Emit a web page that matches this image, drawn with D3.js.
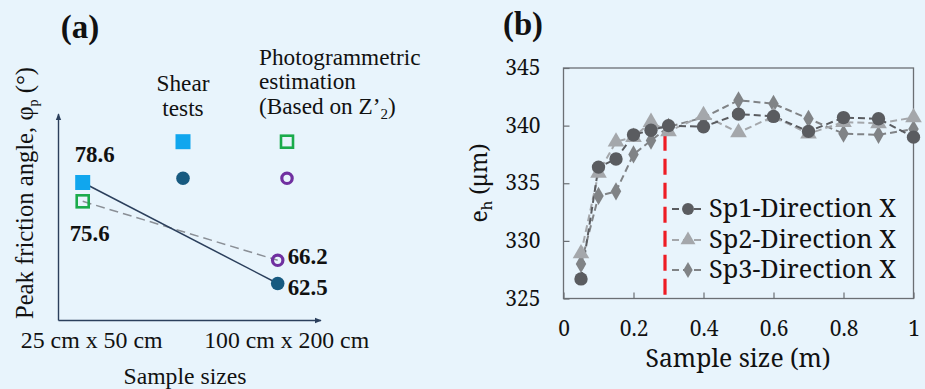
<!DOCTYPE html>
<html><head><meta charset="utf-8">
<script src="https://cdn.jsdelivr.net/npm/d3@7/dist/d3.min.js"></script>
<style>html,body{margin:0;padding:0;background:#e8f4fc;}svg{display:block;}</style>
</head><body>
<script>
// ---------- Panel (a) data ----------
const sizeCategories = ["25 cm x 50 cm", "100 cm x 200 cm"];
const shearTests = [78.6, 62.5];
const photogrammetric = [75.6, 66.2];

// ---------- Panel (b) data ----------
const sampleSizes = [0.05, 0.1, 0.15, 0.2, 0.25, 0.3, 0.4, 0.5, 0.6, 0.7, 0.8, 0.9, 1.0];
const sp1 = [326.7, 336.4, 337.1, 339.2, 339.6, 340.0, 339.9, 341.0, 340.8, 339.5, 340.7, 340.6, 339.0];
const sp2 = [328.9, 335.9, 338.6, 339.0, 340.3, 339.5, 340.9, 339.4, 340.8, 339.3, 340.3, 340.2, 340.7];
const sp3 = [328.0, 333.9, 334.3, 337.5, 338.7, 339.9, 340.7, 342.2, 341.9, 340.6, 339.3, 339.2, 339.7];
const seriesNames = ["Sp1-Direction X", "Sp2-Direction X", "Sp3-Direction X"];
const xTicks = [0, 0.2, 0.4, 0.6, 0.8, 1];
const yTicks = [325, 330, 335, 340, 345];
const thresholdSize = 0.29;

const W = 925, H = 389;
const FA = "'Liberation Serif'";
const FB = "'Noto Serif'";
const svg = d3.select("body").append("svg").attr("width", W).attr("height", H);
svg.append("rect").attr("width", W).attr("height", H).attr("fill", "#e8f4fc");

// set font-size so the text is the given width
function fit(sel, w) {
  const node = sel.node();
  const cur = parseFloat(sel.style("font-size"));
  const len = node.getComputedTextLength();
  if (len > 0) sel.style("font-size", (cur * w / len).toFixed(2) + "px");
  return sel;
}
function txt(g, font, size, x, y, s, anchor) {
  return g.append("text").attr("x", x).attr("y", y).style("font-family", font)
    .style("font-size", size + "px").attr("fill", "#111").attr("text-anchor", anchor || "start").text(s);
}

const defs = svg.append("defs");
defs.append("marker").attr("id", "arr").attr("viewBox", "0 0 10 10")
  .attr("refX", 9).attr("refY", 5).attr("markerWidth", 7).attr("markerHeight", 7)
  .attr("markerUnits", "userSpaceOnUse").attr("orient", "auto")
  .append("path").attr("d", "M0,1 L10,5 L0,9 Z").attr("fill", "#2b3f5c");

// ================= Panel (a) =================
const gA = svg.append("g");
const xA = d3.scalePoint().domain(sizeCategories).range([82.7, 277.7]);
const yA = d3.scaleLinear().domain([62.5, 78.6]).range([283.5, 182.5]);

const axisColor = "#2b3f5c";
gA.append("line").attr("x1", 58.5).attr("y1", 320.5).attr("x2", 58.5).attr("y2", 114)
  .attr("stroke", axisColor).attr("stroke-width", 1.4).attr("marker-end", "url(#arr)");
gA.append("line").attr("x1", 58.5).attr("y1", 320.5).attr("x2", 321).attr("y2", 320.5)
  .attr("stroke", axisColor).attr("stroke-width", 1.4).attr("marker-end", "url(#arr)");

txt(gA, FA, 33, 80, 38, "(a)", "middle").style("font-weight", "bold");

// y label
const yl = gA.append("text").attr("transform", "translate(33,193) rotate(-90)")
  .attr("text-anchor", "middle").style("font-family", FA).style("font-size", "22px").attr("fill", "#111");
yl.append("tspan").text("Peak friction angle,  φ");
yl.append("tspan").style("font-size", "14px").attr("dy", 5).text("p");
yl.append("tspan").attr("dy", -5).text(" (°)");
fit(yl, 253);

// x category labels
const catW = [142, 165];
sizeCategories.forEach((c, i) => {
  fit(txt(gA, FA, 23, xA(c) + 9, 348, c, "middle"), catW[i]);
});
fit(txt(gA, FA, 23, 185, 384, "Sample sizes", "middle"), 123);

// lines
gA.append("line").attr("x1", xA(sizeCategories[0])).attr("y1", yA(photogrammetric[0]))
  .attr("x2", xA(sizeCategories[1])).attr("y2", yA(photogrammetric[1]))
  .attr("stroke", "#8a8f96").attr("stroke-width", 1.5).attr("stroke-dasharray", "9,5");
gA.append("line").attr("x1", xA(sizeCategories[0])).attr("y1", yA(shearTests[0]))
  .attr("x2", xA(sizeCategories[1])).attr("y2", yA(shearTests[1]))
  .attr("stroke", "#2b3f5c").attr("stroke-width", 1.5);

const blue = "#10a6ee", navy = "#175a80", green = "#1aab4b", purple = "#7030a0";
function sqFill(g, cx, cy, s) {
  g.append("rect").attr("x", cx - s / 2).attr("y", cy - s / 2).attr("width", s).attr("height", s).attr("fill", blue);
}
function sqOpen(g, cx, cy, s) {
  g.append("rect").attr("x", cx - s / 2).attr("y", cy - s / 2).attr("width", s).attr("height", s)
    .attr("fill", "none").attr("stroke", green).attr("stroke-width", 2.6);
}
function dot(g, cx, cy) { g.append("circle").attr("cx", cx).attr("cy", cy).attr("r", 6.8).attr("fill", navy); }
function ring(g, cx, cy) {
  g.append("circle").attr("cx", cx).attr("cy", cy).attr("r", 5.2).attr("fill", "none")
    .attr("stroke", purple).attr("stroke-width", 3.2);
}
sqFill(gA, xA(sizeCategories[0]), yA(shearTests[0]), 15);
dot(gA, xA(sizeCategories[1]), yA(shearTests[1]));
sqOpen(gA, xA(sizeCategories[0]), yA(photogrammetric[0]), 12);
ring(gA, xA(sizeCategories[1]), yA(photogrammetric[1]));

// value labels
function vlab(x, y, v, anchor) {
  return fit(txt(gA, FA, 23, x, y, v.toFixed(1), anchor).style("font-weight", "bold"), 40);
}
vlab(xA(sizeCategories[0]) + 12, yA(shearTests[0]) - 21, shearTests[0], "middle");
vlab(xA(sizeCategories[0]) + 7, yA(photogrammetric[0]) + 40, photogrammetric[0], "middle");
vlab(xA(sizeCategories[1]) + 10, yA(photogrammetric[1]) + 4, photogrammetric[1]);
vlab(xA(sizeCategories[1]) + 10, yA(shearTests[1]) + 11, shearTests[1]);

// legend (a)
const shear = fit(txt(gA, FA, 23, 183, 91, "Shear", "middle"), 53);
const lsz = shear.style("font-size");
txt(gA, FA, 23, 183, 116, "tests", "middle").style("font-size", lsz);
txt(gA, FA, 23, 259, 65, "Photogrammetric").style("font-size", lsz);
txt(gA, FA, 23, 259, 89, "estimation").style("font-size", lsz);
const bl = txt(gA, FA, 23, 259, 114, "").style("font-size", lsz);
bl.append("tspan").text("(Based on Z’");
bl.append("tspan").style("font-size", "15px").attr("dy", 5).text("2");
bl.append("tspan").attr("dy", -5).text(")");
sqFill(gA, 183, 141.7, 15);
dot(gA, 183, 178.3);
sqOpen(gA, 287, 141.7, 12);
ring(gA, 287, 178.3);

// ================= Panel (b) =================
const gB = svg.append("g");
const x = d3.scaleLinear().domain([0, 1]).range([563.5, 913.5]);
const y = d3.scaleLinear().domain([325, 345]).range([298.5, 68]);

fit(txt(gB, FA, 33, 523, 35, "(b)", "middle").style("font-weight", "bold"), 40);

const frameColor = "#6b6f74";
gB.append("rect").attr("x", x(0)).attr("y", y(345)).attr("width", x(1) - x(0)).attr("height", y(325) - y(345))
  .attr("fill", "none").attr("stroke", frameColor).attr("stroke-width", 1.3);

const xAxis = d3.axisBottom(x).tickValues(xTicks).tickSize(-6).tickPadding(23)
  .tickFormat(d => d === 0 ? "0" : d === 1 ? "1" : d3.format(".1f")(d));
const gx = gB.append("g").attr("transform", `translate(0,${y(325)})`).call(xAxis);
gx.select(".domain").remove();
gx.selectAll(".tick line").attr("stroke", frameColor).attr("stroke-width", 1.2);
gx.selectAll(".tick text").style("font-family", FB).style("font-size", "21px").attr("fill", "#111");

const yAxis = d3.axisLeft(y).tickValues(yTicks).tickSize(-6).tickPadding(23);
const gy = gB.append("g").attr("transform", `translate(${x(0)},0)`).call(yAxis);
gy.select(".domain").remove();
gy.selectAll(".tick line").attr("stroke", frameColor).attr("stroke-width", 1.2);
gy.selectAll(".tick text").style("font-family", FB).style("font-size", "21px").attr("fill", "#111");

fit(txt(gB, FB, 23, 738, 367, "Sample size (m)", "middle"), 185);
const ylB = gB.append("text").attr("transform", "translate(487,183) rotate(-90)")
  .attr("text-anchor", "middle").style("font-family", FB).style("font-size", "23px").attr("fill", "#111");
ylB.append("tspan").text("e");
ylB.append("tspan").style("font-size", "15px").attr("dy", 5).text("h");
ylB.append("tspan").attr("dy", -5).text(" (μm)");

// threshold
gB.append("line").attr("x1", x(thresholdSize)).attr("x2", x(thresholdSize))
  .attr("y1", y(339.2)).attr("y2", y(325) + 2)
  .attr("stroke", "#ee1c24").attr("stroke-width", 3.2).attr("stroke-dasharray", "16,8");

const colors = ["#5a5c60", "#a4a7ab", "#808386"];
const shapes = [d3.symbolCircle, d3.symbolTriangle, d3.symbolDiamond];
const sizes = [140, 120, 95];
const allSeries = [sp1, sp2, sp3];
const line = d3.line().x((d, i) => x(sampleSizes[i])).y(d => y(d));
[2, 1, 0].forEach(k => {
  gB.append("path").datum(allSeries[k]).attr("d", line).attr("fill", "none")
    .attr("stroke", colors[k]).attr("stroke-width", 2).attr("stroke-dasharray", "7,4");
});
[2, 1, 0].forEach(k => {
  gB.selectAll(null).data(allSeries[k]).join("path")
    .attr("transform", (d, i) => `translate(${x(sampleSizes[i])},${y(d)})`)
    .attr("d", d3.symbol(shapes[k], sizes[k])).attr("fill", colors[k]);
});

// legend (b)
const legY = [209, 240, 270];
seriesNames.forEach((name, k) => {
  const ly = legY[k];
  gB.append("line").attr("x1", 672).attr("x2", 704).attr("y1", ly).attr("y2", ly)
    .attr("stroke", colors[k]).attr("stroke-width", 2).attr("stroke-dasharray", "7,4");
  gB.append("path").attr("transform", `translate(688,${ly})`)
    .attr("d", d3.symbol(shapes[k], sizes[k] * 0.8)).attr("fill", colors[k]);
  fit(txt(gB, FB, 23, 709, ly + 8, name), 187);
});
</script>
</body></html>
